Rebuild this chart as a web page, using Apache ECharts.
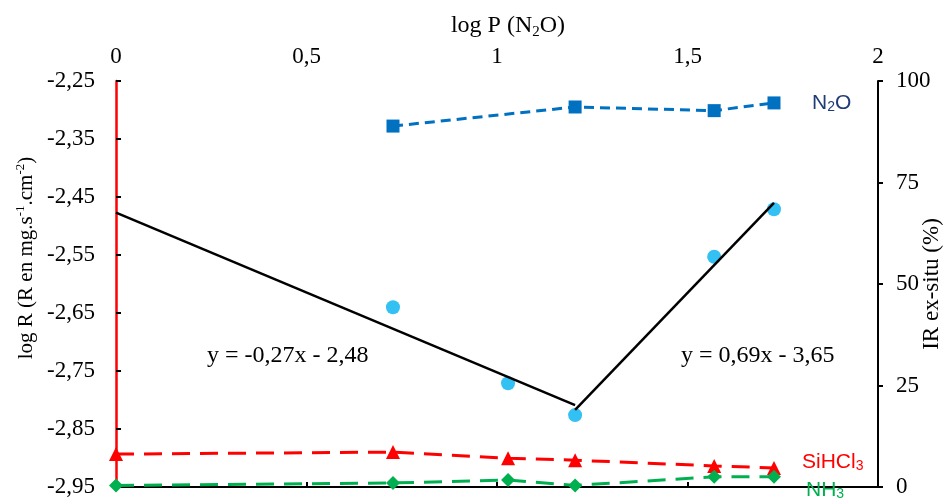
<!DOCTYPE html>
<html>
<head>
<meta charset="utf-8">
<script src="https://cdn.jsdelivr.net/npm/echarts@6/dist/echarts.min.js"></script>
<style>html,body{margin:0;padding:0;background:#fff}#c{width:944px;height:499px}</style>
</head>
<body>
<div id="c"></div>
<script>
// ---- data ----
const logP = [0, 0.727, 1.029, 1.205, 1.570, 1.727];
const logR = [null, -2.640, -2.771, -2.826, -2.553, -2.471];
const irN2O = [null, 88.9, null, 93.6, 92.7, 94.6];
const irSiHCl3 = [8.1, 8.6, 7.1, 6.6, 5.2, 4.7];
const irNH3 = [0.4, 1.0, 1.7, 0.4, 2.5, 2.5];
const fit1X = [0, 1.205];
const fit1Y = [-2.477, -2.809];
const fit2X = [1.205, 1.727];
const fit2Y = [-2.817, -2.460];
const xTicks = [0, 0.5, 1, 1.5, 2];
const leftTicks = [-2.95, -2.85, -2.75, -2.65, -2.55, -2.45, -2.35, -2.25];
const rightTicks = [0, 25, 50, 75, 100];
const eqTexts = ['y = -0,27x - 2,48', 'y = 0,69x - 3,65'];

const SERIF = '"Liberation Serif", "Times New Roman", serif';
const SANS = '"Liberation Sans", Arial, sans-serif';

function pairs(xs, ys) {
  return xs.map((x, i) => [x, ys[i]]).filter(p => p[1] !== null);
}
function fr(v, d) { return v.toFixed(d).replace('.', ','); }

const chart = echarts.init(document.getElementById('c'), null, {renderer: 'canvas'});

function subRich(size, color, family, drop) {
  return {fontSize: size, color: color, fontFamily: family, lineHeight: size, padding: [drop, 0, 0, 0]};
}

chart.setOption({
  animation: false,
  backgroundColor: '#ffffff',
  grid: {left: 116, right: 66, top: 81, bottom: 12, containLabel: false, outerBoundsMode: 'none'},
  xAxis: {
    type: 'value', position: 'top', min: xTicks[0], max: xTicks[xTicks.length - 1], interval: 0.5,
    name: 'log P (N{sub|2}O)', nameLocation: 'middle', nameGap: 43, nameMoveOverlap: false,
    nameTextStyle: {fontFamily: SERIF, fontSize: 24, color: '#000', padding: [0, 0, 0, 22],
      rich: {sub: subRich(15, '#000', SERIF, 12)}},
    axisLine: {show: true, lineStyle: {color: '#000', width: 2}},
    axisTick: {show: true, length: 5, lineStyle: {color: '#000', width: 2}},
    axisLabel: {fontFamily: SERIF, fontSize: 23, color: '#000', margin: 13,
      formatter: v => xTicks.includes(v) ? fr(v, v % 1 === 0 ? 0 : 1) : ''},
    splitLine: {show: false}
  },
  yAxis: [
    {
      type: 'value', position: 'left', min: leftTicks[0], max: leftTicks[leftTicks.length - 1],
      name: 'log R (R en mg.s{sup|-1}.cm{sup|-2})', nameLocation: 'middle', nameGap: 79, nameRotate: 90,
      nameMoveOverlap: false,
      nameTextStyle: {fontFamily: SERIF, fontSize: 21, color: '#000', padding: [0, 0, 0, 52],
        rich: {sup: {fontSize: 13, color: '#000', fontFamily: SERIF, lineHeight: 13, padding: [0, 0, 12, 0]}}},
      axisLine: {show: true, onZero: false, lineStyle: {color: '#ff0000', width: 2.5}},
      axisTick: {show: true, inside: true, length: 5, customValues: leftTicks, lineStyle: {color: '#000', width: 2}},
      axisLabel: {fontFamily: SERIF, fontSize: 23, color: '#000', margin: 21, customValues: leftTicks,
        formatter: v => fr(v, 2)},
      splitLine: {show: false}
    },
    {
      type: 'value', position: 'right', min: rightTicks[0], max: rightTicks[rightTicks.length - 1], interval: 25,
      name: 'IR ex-situ (%)', nameLocation: 'middle', nameGap: 42, nameRotate: 90, nameMoveOverlap: false,
      nameTextStyle: {fontFamily: SERIF, fontSize: 23, color: '#000'},
      axisLine: {show: true, onZero: false, lineStyle: {color: '#000', width: 2}},
      axisTick: {show: true, length: 5, lineStyle: {color: '#000', width: 2}},
      axisLabel: {fontFamily: SERIF, fontSize: 23, color: '#000', margin: 18},
      splitLine: {show: false}
    }
  ],
  graphic: [
    {type: 'text', left: 207, top: 344, style: {text: eqTexts[0], font: '24px ' + SERIF, fill: '#000'}},
    {type: 'text', left: 681, top: 344, style: {text: eqTexts[1], font: '24px ' + SERIF, fill: '#000'}}
  ],
  series: [
    {
      name: 'log R', type: 'scatter', yAxisIndex: 0, data: pairs(logP, logR),
      symbol: 'circle', symbolSize: 14, itemStyle: {color: '#00b0f0'}, z: 3
    },
    {
      name: 'N2O', type: 'line', yAxisIndex: 1, data: pairs(logP, irN2O),
      symbol: 'rect', symbolSize: 13, showAllSymbol: true,
      itemStyle: {color: '#0070c0'}, lineStyle: {color: '#0070c0', width: 3, type: [10, 6]},
      endLabel: {show: true, distance: 38, formatter: 'N{sub|2}O', color: '#1f3c78', fontFamily: SANS, fontSize: 21,
        rich: {sub: subRich(14, '#1f3c78', SANS, 8)}}, z: 4
    },
    {
      name: 'SiHCl3', type: 'line', yAxisIndex: 1, data: pairs(logP, irSiHCl3),
      symbol: 'triangle', symbolSize: 14, showAllSymbol: true,
      itemStyle: {color: '#ff0000'}, lineStyle: {color: '#ff0000', width: 3, type: [18, 10]},
      endLabel: {show: true, distance: 28, offset: [0, -6], formatter: 'SiHCl{sub|3}', color: '#ff0000', fontFamily: SANS, fontSize: 21,
        rich: {sub: subRich(14, '#ff0000', SANS, 8)}}, z: 4
    },
    {
      name: 'NH3', type: 'line', yAxisIndex: 1, data: pairs(logP, irNH3),
      symbol: 'diamond', symbolSize: 14, showAllSymbol: true,
      itemStyle: {color: '#00b050'}, lineStyle: {color: '#00b050', width: 3, type: [18, 10]},
      endLabel: {show: true, distance: 32, offset: [0, 13], formatter: 'NH{sub|3}', color: '#00b050', fontFamily: SANS, fontSize: 21,
        rich: {sub: subRich(14, '#00b050', SANS, 8)}}, z: 4
    },
    {
      name: 'fit1', type: 'line', yAxisIndex: 0, data: pairs(fit1X, fit1Y), symbol: 'none',
      lineStyle: {color: '#000', width: 2.5}, z: 5
    },
    {
      name: 'fit2', type: 'line', yAxisIndex: 0, data: pairs(fit2X, fit2Y), symbol: 'none',
      lineStyle: {color: '#000', width: 2.5}, z: 5
    }
  ]
});
</script>
</body>
</html>
